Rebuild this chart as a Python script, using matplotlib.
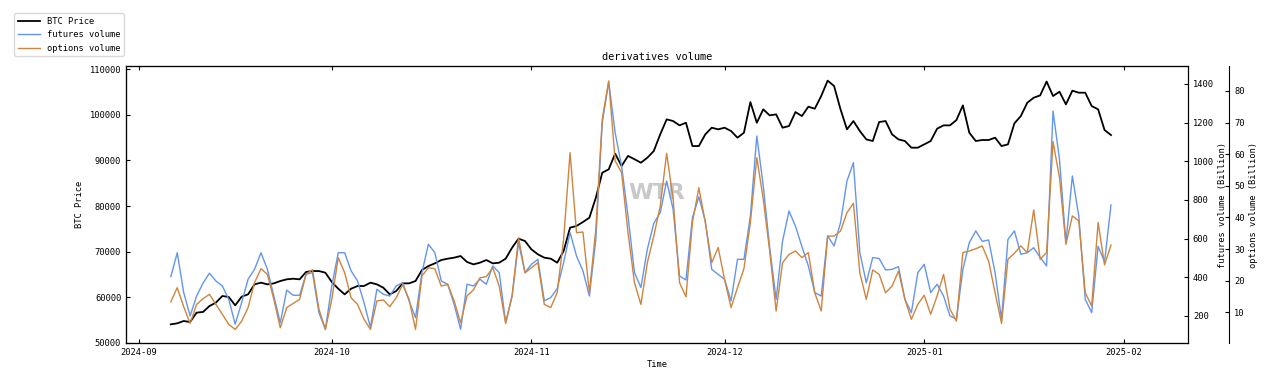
import matplotlib
matplotlib.use("Agg")
import matplotlib.pyplot as plt
import matplotlib.dates as mdates
import pandas as pd

plt.rcParams['font.family'] = ['DejaVu Sans Mono']
plt.rcParams['xtick.direction'] = 'in'
plt.rcParams['ytick.direction'] = 'in'

# daily values, starting 2024-09-06
btc_price = [
    54090, 54310, 54820, 54600, 56650, 56800, 58100, 58840, 60300, 60080,
    58250, 60150, 60660, 62850, 63220, 62850, 63070, 63580, 63950, 64090,
    63950, 65560, 65770, 65770, 65410, 63360, 61900, 60660, 61900, 62490,
    62490, 63220, 62850, 62120, 60660, 61390, 63070, 63070, 63580, 65990,
    66870, 67450, 68180, 68480, 68700, 69060, 67750, 67230, 67600, 68180,
    67450, 67600, 68480, 70890, 72860, 72350, 70520, 69430, 68700, 68480,
    67600, 70160, 75270, 75640, 76510, 77460, 81840, 87320, 88050, 91500,
    88780, 91000, 90270, 89510, 90600, 92070, 95720, 99000, 98640, 97690,
    98270, 93160, 93160, 95720, 97180, 96820, 97180, 96450, 94990, 96080,
    102800, 98270, 101200, 99880, 100100, 97180, 97540, 100610, 99730, 101780,
    101340, 104120, 107500, 106310, 101200, 96820, 98640, 96450, 94620, 94260,
    98420, 98640, 95720, 94620, 94260, 92800, 92800, 93530, 94260, 96960,
    97690, 97690, 98860, 102070, 96080, 94260, 94480, 94480, 94990, 93160,
    93530, 98130, 99730, 102650, 103750, 104260, 107300, 104120, 105070, 102290,
    105290, 104850, 104850, 101930, 101200, 96670, 95570,
]
futures_volume = [
    403, 527, 321, 200, 303, 369, 421, 381, 355, 286,
    157, 269, 390, 441, 527, 441, 303, 165, 334, 307,
    307, 415, 424, 217, 131, 355, 527, 527, 433, 381,
    269, 140, 338, 312, 303, 355, 372, 278, 191, 424,
    571, 527, 381, 364, 260, 131, 364, 355, 390, 364,
    459, 424, 166, 303, 579, 424, 467, 493, 278, 295,
    341, 476, 631, 510, 433, 303, 596, 1200, 1410, 1148,
    976, 717, 424, 347, 545, 679, 734, 898, 752, 407,
    386, 708, 816, 691, 441, 415, 389, 278, 493, 493,
    717, 1131, 872, 553, 286, 588, 743, 665, 559, 459,
    321, 303, 614, 562, 683, 898, 993, 527, 372, 502,
    497, 438, 441, 455, 286, 217, 424, 467, 321, 364,
    303, 200, 183, 441, 579, 640, 586, 593, 424, 183,
    596, 640, 519, 527, 553, 502, 459, 1260, 1010, 579,
    924, 717, 286, 217, 560, 480, 774,
]
options_volume = [
    13.3, 17.8, 11.8, 6.5, 12.5, 14.3, 15.7, 12.5, 9.4, 6.2,
    4.6, 7.2, 11.5, 19.4, 23.8, 22.0, 14.1, 5.1, 11.5, 12.8,
    14.1, 22.0, 23.5, 11.0, 4.6, 14.1, 27.3, 22.5, 14.6, 12.5,
    7.8, 4.6, 13.6, 13.9, 11.8, 14.6, 18.8, 14.1, 4.6, 21.5,
    24.1, 23.8, 18.3, 18.8, 13.6, 6.7, 15.2, 17.1, 20.9, 21.3,
    24.1, 18.3, 6.5, 15.2, 33.6, 22.5, 24.1, 25.7, 12.5, 11.5,
    16.2, 33.1, 60.5, 35.2, 35.4, 16.2, 36.3, 71.1, 83.2, 57.9,
    54.2, 35.2, 19.4, 12.5, 25.7, 34.1, 43.6, 60.3, 45.8, 19.4,
    14.9, 38.4, 49.4, 38.4, 25.7, 30.5, 20.3, 11.5, 17.8, 23.8,
    38.4, 58.9, 45.8, 29.4, 10.4, 25.7, 28.3, 29.4, 27.3, 28.9,
    16.2, 10.4, 34.1, 34.1, 35.7, 41.5, 44.5, 22.5, 14.1, 23.4,
    22.0, 16.2, 18.3, 23.0, 14.1, 7.8, 12.5, 15.4, 9.4, 15.2,
    22.0, 11.0, 7.2, 28.9, 29.4, 30.1, 31.0, 26.2, 16.2, 6.5,
    26.8, 28.7, 31.0, 28.9, 42.4, 26.8, 28.9, 64.0, 52.6, 31.5,
    40.5, 38.9, 16.2, 12.0, 38.4, 25.0, 31.3,
]
dates = pd.date_range('2024-09-06', periods=len(btc_price), freq='D')

fig = plt.figure(figsize=(12.76, 3.81), dpi=100)
ax = fig.add_axes([126 / 1276, 38 / 381, 1062 / 1276, 277 / 381])
ax2 = ax.twinx()
ax3 = ax.twinx()
ax3.spines['right'].set_position(('axes', 1.039))

l1, = ax.plot(dates, btc_price, color='black', lw=1.3, label='BTC Price')
l2, = ax2.plot(dates, futures_volume, color='#6495ED', lw=1.0, label='futures volume')
l3, = ax3.plot(dates, options_volume, color='#CD853F', lw=1.0, label='options volume')

ax.set_xlim(pd.Timestamp('2024-08-30 01:00'), pd.Timestamp('2025-02-10 23:00'))
ax.set_ylim(50000, 110700)
ax2.set_ylim(60, 1493)
ax3.set_ylim(0.3, 87.9)
ax2.set_yticks(range(200, 1401, 200))
ax3.set_yticks(range(10, 81, 10))

ax.xaxis.set_major_locator(mdates.MonthLocator())
ax.xaxis.set_major_formatter(mdates.DateFormatter('%Y-%m'))

fs = 6.3
for a in (ax, ax2, ax3):
    a.tick_params(labelsize=fs, length=3, width=0.8)
ax.tick_params(axis='x', top=True)

ax.set_xlabel('Time', fontsize=fs, labelpad=2)
ax.set_ylabel('BTC Price', fontsize=fs, labelpad=4)
ax2.set_ylabel('futures volume (Billion)', fontsize=fs, labelpad=3)
ax3.set_ylabel('options volume (Billion)', fontsize=fs, labelpad=3)
ax.set_title('derivatives volume', fontsize=7.4, pad=4)

ax.text(0.5, 0.54, 'WTR', transform=ax.transAxes, ha='center', va='center',
        fontsize=16, color='#c8c8c8', fontweight='bold', family='DejaVu Sans')

fig.legend(handles=[l1, l2, l3], loc='upper left', bbox_to_anchor=(10 / 1276, 1 - 9 / 381),
           fontsize=fs, handlelength=2.5, edgecolor='#d0d0d0')

fig.savefig('out.png', dpi=100)
